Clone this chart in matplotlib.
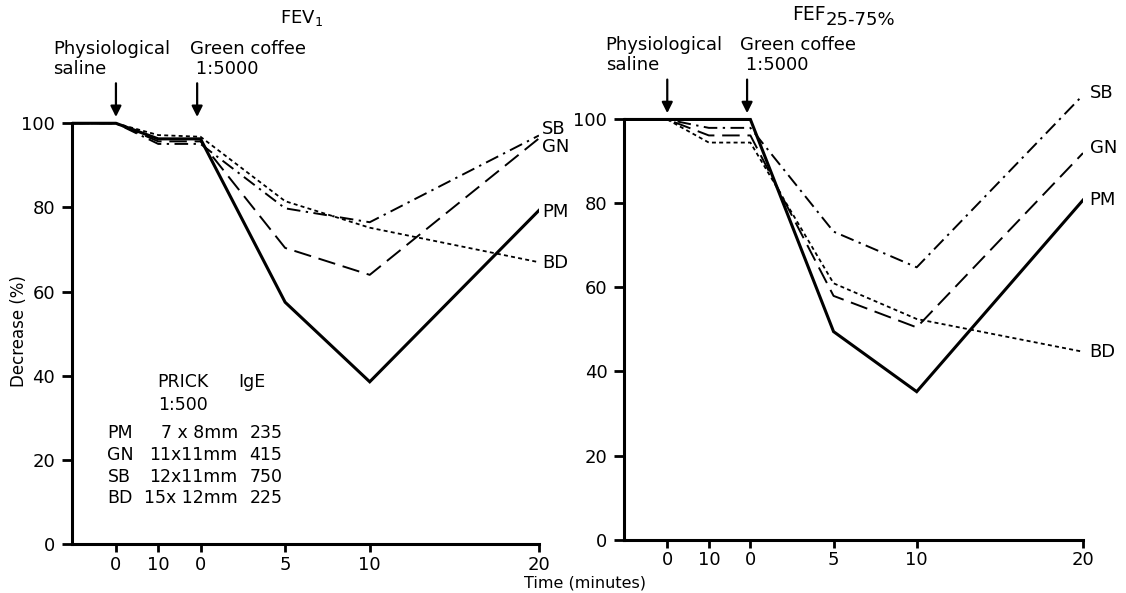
import numpy as np
import matplotlib
matplotlib.use('Agg')
import matplotlib.pyplot as plt

plt.rcParams['font.family'] = ['DejaVu Sans']
plt.rcParams['font.size'] = 13

# time axis: start, saline 0, saline 10, coffee 0, 5, 10, 20 min
time_pos = [-7.6, -5, -2.5, 0, 5, 10, 20]
tick_pos = [-5, -2.5, 0, 5, 10, 20]
tick_labels = ['0', '10', '0', '5', '10', '20']
y_ticks = [0, 20, 40, 60, 80, 100]
events = [-5, -0.2]   # saline, green coffee challenge

subjects = ['PM', 'GN', 'SB', 'BD']

# FEV1 (% of baseline)
fev_pm = [100, 100, 96.3, 96.3, 57.5, 38.6, 79.3]
fev_gn = [100, 100, 95.7, 95.7, 70.4, 64.0, 96.4]
fev_sb = [100, 100, 95.1, 95.1, 79.8, 76.5, 97.1]
fev_bd = [100, 100, 97.2, 96.8, 81.5, 75.2, 67.0]

# FEF25-75%
fef_pm = [100, 100, 100, 100, 49.5, 35.2, 80.8]
fef_gn = [100, 100, 96.2, 96.2, 58.0, 50.5, 92.0]
fef_sb = [100, 100, 98.0, 98.0, 73.3, 64.8, 105.8]
fef_bd = [100, 100, 94.5, 94.5, 61.0, 52.5, 44.7]

# where the subject tags sit at the right end of each panel
fev_tag_y = [79.0, 94.4, 98.6, 66.7]
fef_tag_y = [80.8, 93.1, 106.2, 44.7]

prick_size = ['7 x 8mm', '11x11mm', '12x11mm', '15x 12mm']
ige = ['235', '415', '750', '225']

styles = {
    'PM': dict(lw=2.2, ls='-', zorder=4),
    'GN': dict(lw=1.4, ls=(0, (9, 4)), zorder=3),
    'SB': dict(lw=1.4, ls=(0, (7, 2.8, 1.2, 2.8)), zorder=3),
    'BD': dict(lw=1.3, ls=(0, (2.2, 1.8)), zorder=3),
}


def setup_axis(ax):
    ax.set_xlim(-7.6, 20)
    ax.set_ylim(0, 120)
    for s in ['top', 'right']:
        ax.spines[s].set_visible(False)
    ax.spines['left'].set_bounds(0, 100)
    ax.spines['bottom'].set_bounds(-7.6, 20)
    for s in ['left', 'bottom']:
        ax.spines[s].set_linewidth(2.2)
    ax.set_xticks(tick_pos)
    ax.set_xticklabels(tick_labels)
    ax.set_yticks(y_ticks)
    ax.set_xticks([20], minor=True)
    ax.tick_params(axis='x', which='major', length=6, width=2, pad=2.5, labelsize=13)
    ax.tick_params(axis='x', which='minor', length=5, width=2, direction='in')
    ax.tick_params(axis='y', length=7, width=2, pad=5, labelsize=13)
    ax.patch.set_visible(False)


def draw_panel(ax, series, tag_y, text_y, tag_x):
    for name, vals in zip(subjects, series):
        ax.plot(time_pos, vals, color='k', solid_joinstyle='miter', **styles[name])
    for name, ty in zip(subjects, tag_y):
        ax.text(tag_x, ty, name, ha='left', va='center', fontsize=13)
    ax.text(-8.7, text_y, 'Physiological\nsaline', ha='left', va='center',
            linespacing=1.15, fontsize=13)
    ax.text(events[1] - 0.4, text_y, 'Green coffee\n 1:5000', ha='left', va='center',
            linespacing=1.15, fontsize=13)
    for ex in events:
        ax.annotate('', xy=(ex, 101.5), xytext=(ex, 109.5),
                    arrowprops=dict(arrowstyle='-|>', lw=1.6, color='k',
                                    mutation_scale=16, shrinkA=0, shrinkB=0))


fig = plt.figure(figsize=(11.26, 5.93), dpi=100)
ax1 = fig.add_axes([0.0639, 0.0821, 0.4147, 0.852])
ax2 = fig.add_axes([0.5542, 0.0902, 0.4076, 0.850])

for ax in (ax1, ax2):
    setup_axis(ax)

draw_panel(ax1, [fev_pm, fev_gn, fev_sb, fev_bd], fev_tag_y, 115.2, 20.2)
draw_panel(ax2, [fef_pm, fef_gn, fef_sb, fef_bd], fef_tag_y, 115.4, 20.4)

# prick test table
ax1.text(-2.53, 38.6, 'PRICK', ha='left', va='center', fontsize=12.5)
ax1.text(2.21, 38.6, 'IgE', ha='left', va='center', fontsize=12.5)
ax1.text(-2.53, 33.1, '1:500', ha='left', va='center', fontsize=12.5)
row_y = [26.4, 21.2, 16.1, 10.9]
for name, sz, ig, ry in zip(subjects, prick_size, ige, row_y):
    ax1.text(-5.5, ry, name, ha='left', va='center', fontsize=12.5)
    ax1.text(2.2, ry, sz, ha='right', va='center', fontsize=12.5)
    ax1.text(2.9, ry, ig, ha='left', va='center', fontsize=12.5)

fig.text(0.2487, 0.969, 'FEV$_1$', ha='left', va='center', fontsize=13)
fig.text(792 / 1126, 1 - 15 / 593, 'FEF', ha='left', va='center', fontsize=13.5)
fig.text(826 / 1126, 1 - 20 / 593, '25-75%', ha='left', va='center', fontsize=13)
fig.text(0.0169, 0.442, 'Decrease (%)', rotation=90, ha='center', va='center', fontsize=12)
fig.text(0.5195, 1 - 583 / 593, 'Time (minutes)', ha='center', va='center', fontsize=11.5)

fig.savefig('out.png', dpi=100)
